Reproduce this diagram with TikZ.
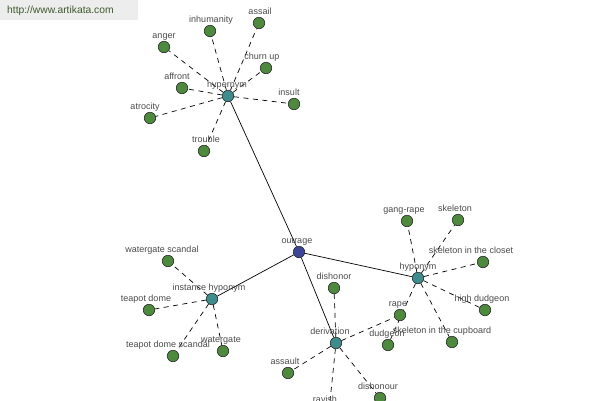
\documentclass[tikz,border=0pt]{standalone}
\usepackage{fontspec}
\setmainfont{Liberation Sans}
\usetikzlibrary{backgrounds}

\definecolor{leafgreen}{HTML}{4E8A3E}
\definecolor{hubteal}{HTML}{3F8C8C}
\definecolor{rootblue}{HTML}{3B4697}
\definecolor{labelgray}{HTML}{4A4A4A}
\definecolor{markgreen}{HTML}{3E5A2C}

\tikzset{
  dotnode/.style={circle,draw=black!85,line width=0.6pt,minimum size=11.5pt,inner sep=0pt},
  leafdot/.style={dotnode,fill=leafgreen},
  hubdot/.style={dotnode,fill=hubteal},
  rootdot/.style={dotnode,fill=rootblue},
  lbl/.style={anchor=base,inner sep=0pt,font=\fontsize{9}{10}\selectfont,text=labelgray},
  reledge/.style={line width=0.7pt},
  subedge/.style={line width=0.7pt,dash pattern=on 5pt off 4.5pt},
}

\begin{document}
\begin{tikzpicture}[x=1pt,y=-1pt]

   \useasboundingbox (0,0) rectangle (600,400);
   \clip (0,0) rectangle (600,400);

   % Watermark
   \fill[black!7] (0,0) rectangle (138,20);
   \node[anchor=west,inner sep=0pt,font=\fontsize{10.3}{11}\selectfont,text=markgreen]
       (site) at (7,11) {http://www.artikata.com};

   % Centre and relations
   \node[rootdot] (outrage)    at (299,252) {};
   \node[hubdot]  (hypernym)   at (228,96)  {};
   \node[hubdot]  (insthyp)    at (212,299) {};
   \node[hubdot]  (derivation) at (336,343) {};
   \node[hubdot]  (hyponym)    at (418,278) {};

   \foreach \n/\dx/\t in {outrage/-2/outrage, hypernym/-1/hypernym,
                          insthyp/-3/instance hyponym, derivation/-6/derivation,
                          hyponym/0/hyponym}
       \node[lbl] (\n-text) at ([xshift=\dx pt, yshift=9pt]\n.center) {\t};

   % Words
   \foreach \n/\x/\y/\dx/\t in {
       inhumanity/210/31/1/inhumanity, assail/259/23/1/assail,
       anger/164/47/0/anger, churnup/266/68/-4/churn up,
       affront/182/88/-5/affront, insult/294/104/-5/insult,
       atrocity/150/118/-5/atrocity, trouble/204/151/2/trouble,
       wgscandal/168/261/-6/watergate scandal, teapot/149/310/-3/teapot dome,
       tdscandal/173/356/-5/teapot dome scandal, watergate/223/351/-2/watergate,
       dishonor/334/288/0/dishonor, assault/288/373/-3/assault,
       dishonour/380/398/-2/dishonour, ravish/329/411/-4/ravish,
       gangrape/407/221/-3/gang-rape, skeleton/458/220/-3/skeleton,
       skcloset/483/262/-12/skeleton in the closet,
       highdudgeon/485/310/-3/high dudgeon,
       skcupboard/452/342/-10/skeleton in the cupboard,
       rape/400/315/-2/rape, dudgeon/388/345/-1/dudgeon}{
       \node[leafdot] (\n) at (\x,\y) {};
       \node[lbl] (\n-text) at ([xshift=\dx pt, yshift=9pt]\n.center) {\t};
   }

   % Links
   \begin{scope}[on background layer]
       \foreach \h in {hypernym,insthyp,derivation,hyponym}
           \draw[reledge] (outrage) -- (\h);
       \foreach \w in {inhumanity,assail,anger,churnup,affront,insult,atrocity,trouble}
           \draw[subedge] (hypernym) -- (\w);
       \foreach \w in {wgscandal,teapot,tdscandal,watergate}
           \draw[subedge] (insthyp) -- (\w);
       \foreach \w in {dishonor,assault,dishonour,ravish,rape}
           \draw[subedge] (derivation) -- (\w);
       \foreach \w in {gangrape,skeleton,skcloset,highdudgeon,skcupboard,dudgeon}
           \draw[subedge] (hyponym) -- (\w);
   \end{scope}

\end{tikzpicture}
\end{document}
